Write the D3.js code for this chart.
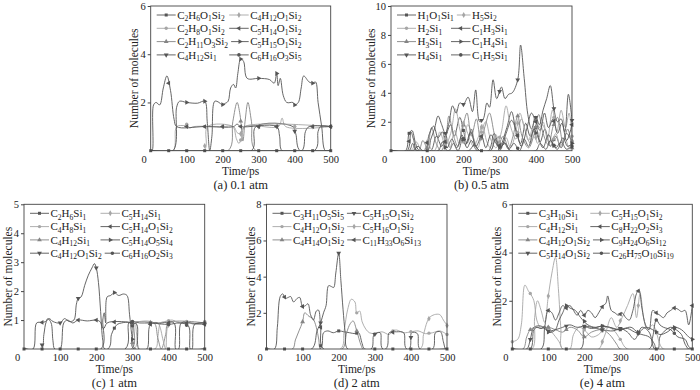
<!DOCTYPE html>
<html><head><meta charset="utf-8">
<script src="https://cdn.jsdelivr.net/npm/d3@7"></script>
<style>
body{margin:0;background:#fff}
svg{display:block;font-family:'Liberation Serif','DejaVu Serif',serif}
svg text{font-family:'Liberation Serif','DejaVu Serif',serif;fill:#222}
</style>
</head><body>
<svg width="700" height="390" font-family="Liberation Serif"></svg>
<script>
// ---------------- DATA ----------------
const xTickLabels = [0, 100, 200, 300, 400, 500];
const markerTimes = [0, 50, 100, 150, 200, 250, 300, 350, 400, 450, 500];

// (a) 0.1 atm
const namesA = ["C2H6O1Si2","C2H8O1Si2","C2H11O3Si2","C4H12Si1","C4H12O1Si2","C5H14O1Si2","C5H15O1Si2","C6H16O3Si5"];
const yTicksA = [2, 4, 6];
const seriesA = [
  [[0,0],[500,0]],
  [[0,0],[62,0],[72,1],[95,1.05],[100,1.1],[108,0.95],[120,1],[200,1],[228,1],[238,0.5],[245,0.3],[252,0.5],[262,1],[355,1],[365,1.35],[375,1],[500,1]],
  [[0,0],[215,0],[228,1.2],[240,2],[248,1.5],[256,0.4],[262,1.2],[270,2],[280,1.2],[292,0],[500,0]],
  [[0,0],[280,0],[292,1],[395,1],[403,0.7],[415,0],[500,0]],
  [[0,0],[148,0],[158,1],[230,1],[240,0.75],[250,0.7],[260,1],[500,1]],
  [[0,0],[4,0],[8,1.9],[15,2],[25,1.9],[35,2.6],[45,3.1],[55,2.5],[65,1.3],[72,1],[150,1],[230,1],[240,1.1],[250,1],[350,1],[358,0.6],[365,0],[420,0],[430,0.8],[440,1],[500,1]],
  [[0,0],[62,0],[72,1.8],[80,2.05],[100,2],[130,1.97],[150,2.05],[157,1.2],[164,0],[170,0.6],[178,2.05],[190,2],[198,1.9],[205,1.95],[215,2.05],[222,2.6],[230,2.75],[236,2.6],[242,3.2],[250,3.8],[258,3.7],[268,3.0],[300,3.0],[330,2.95],[343,2.8],[350,3.2],[354,2.7],[360,3.0],[368,2.3],[378,2.0],[395,2.0],[400,1.9],[410,2.0],[418,2.6],[425,3.1],[440,2.85],[450,2.8],[458,2.85],[465,2],[475,1],[485,0],[500,0]],
  [[0,0],[455,0],[465,0.8],[472,1],[500,1]]
];

// (b) 0.5 atm
const namesB = ["H1O1Si1","H2Si1","H3Si1","H4Si1","H5Si2","C1H3Si1","C1H4Si1","C1H5Si1"];
const yTicksB = [2, 4, 6, 8, 10];
const seriesB = [
  [[0,0],[40,0],[50,1.2],[58,1.4],[68,0.5],[78,0],[110,0],[125,1.0],[140,0.3],[150,0.9],[165,1.8],[175,1.0],[190,2.3],[200,1.4],[210,0.5],[222,1.5],[232,0.4],[245,0],[270,0],[285,1.2],[300,0.3],[320,1.6],[333,2.7],[345,1.4],[358,0.5],[372,1.9],[385,1.0],[400,1.6],[412,0.6],[425,1.5],[440,0.3],[455,1.0],[470,0.2],[485,1.2],[500,0.6]],
  [[0,0],[55,0],[70,0.6],[85,0],[120,0],[135,1.3],[150,0.4],[165,1.2],[178,2.9],[190,1.5],[200,0.6],[212,1.8],[225,1.1],[240,0.2],[252,1.5],[262,2.0],[275,0.8],[290,0.2],[305,1.3],[318,3.1],[330,1.7],[345,0.8],[360,2.2],[372,1.3],[385,0.5],[398,2.4],[410,1.6],[420,2.0],[432,0.8],[446,2.8],[458,1.3],[470,2.8],[482,1.6],[492,2.6],[500,1.0]],
  [[0,0],[75,0],[88,0.7],[100,0.2],[112,1.6],[125,0.5],[138,0],[150,0.6],[160,2.4],[172,1.1],[185,0.3],[198,1.6],[210,2.6],[222,1.0],[236,2.2],[248,0.7],[260,1.7],[272,2.6],[285,1.2],[295,0.3],[310,1.0],[325,0.2],[338,1.1],[350,2.4],[362,1.0],[380,0.2],[395,1.1],[408,2.5],[420,1.2],[435,0.4],[448,1.7],[460,2.3],[475,0.6],[488,1.5],[500,0.2]],
  [[0,0],[100,0],[110,0.8],[120,1.5],[130,2.4],[140,1.8],[150,1.2],[160,1.9],[170,3.1],[180,2.6],[190,3.3],[200,3.2],[213,3.7],[225,2.7],[234,4.2],[245,2.0],[255,2.2],[265,3.3],[272,3.0],[282,4.9],[292,3.6],[305,4.4],[315,3.6],[325,3.9],[335,4.0],[350,4.9],[358,7.3],[368,5.0],[378,2.5],[388,1.5],[400,2.3],[410,1.8],[420,2.8],[430,3.6],[440,4.5],[450,2.9],[460,2.0],[470,2.2],[480,1.3],[490,3.9],[500,2.1]],
  [[0,0],[90,0],[100,0.6],[115,0],[140,0],[152,1.0],[163,0.2],[176,1.4],[188,0.5],[200,1.9],[212,1.2],[228,0.3],[242,1.0],[252,1.8],[265,0.6],[278,0.1],[290,1.1],[303,0.3],[318,0.9],[330,0.2],[345,1.3],[356,2.6],[368,1.6],[380,0.7],[392,1.6],[405,0.5],[418,1.8],[430,1.1],[442,0.3],[455,1.2],[468,0.3],[480,0.9],[492,0.2],[500,0.7]],
  [[0,0],[45,0],[55,1.3],[62,0.8],[72,0],[95,0],[105,1.1],[118,1.7],[130,0.9],[142,1.3],[155,0.2],[168,0.8],[182,0.2],[196,1.1],[206,0.4],[220,1.3],[235,0.3],[250,1.0],[262,0.2],[276,1.1],[290,0.5],[305,0.3],[318,1.2],[333,2.1],[348,1.2],[360,0.3],[375,1.5],[388,2.6],[400,2.0],[412,1.4],[424,2.6],[435,1.6],[448,2.2],[460,1.2],[472,1.9],[485,0.7],[500,1.8]],
  [[0,0],[50,0],[60,0.5],[70,0],[130,0],[142,0.6],[155,0],[185,0],[198,0.9],[210,0.2],[222,0.7],[238,0],[275,0],[288,0.8],[300,0.2],[315,0.5],[330,0],[355,0],[368,0.8],[380,0.3],[395,1.5],[408,0.8],[420,0.2],[435,1.1],[448,0.4],[460,0.1],[475,0.9],[488,0.3],[500,0.5]],
  [[0,0],[60,0],[75,0.3],[88,0],[160,0],[172,0.5],[185,0],[215,0],[230,0.4],[245,0],[300,0],[312,0.6],[325,0.1],[340,0.5],[355,0],[400,0],[412,0.5],[428,0.1],[440,0.7],[455,0.2],[470,0.6],[485,0.1],[500,0.3]]
];

// (c) 1 atm
const namesC = ["C2H6Si1","C4H8Si1","C4H12Si1","C4H12O1Si2","C5H14Si1","C5H14O1Si2","C5H14O5Si4","C6H16O2Si3"];
const yTicksC = [1, 2, 3, 4, 5];
const seriesC = [
  [[0,0],[232,0],[242,0.5],[250,0.72],[258,0.85],[270,0.9],[290,0.92],[300,0.8],[308,0],[500,0]],
  [[0,0],[362,0],[370,0.4],[378,0.9],[390,0.95],[410,1.0],[430,0.9],[450,0.95],[470,0.85],[490,0.9],[500,0.95]],
  [[0,0],[298,0],[306,0.9],[320,0.95],[360,0.9],[370,0.4],[380,0],[392,0.5],[400,0.9],[500,0.9]],
  [[0,0],[48,0],[55,0.5],[62,0.95],[70,1.05],[80,0.95],[100,0.9],[112,1.05],[125,0.95],[138,1.0],[145,1.55],[150,1.75],[158,1.8],[168,2.2],[178,2.55],[188,2.8],[195,2.95],[200,2.8],[206,2.3],[212,1.3],[218,0.3],[224,0],[500,0]],
  [[0,0],[305,0],[312,0.9],[330,0.95],[350,0.9],[370,0.9],[385,0.3],[392,0],[398,0.8],[410,0.95],[440,0.9],[460,0.9],[480,0.85],[500,0.9]],
  [[0,0],[25,0],[35,0.9],[50,0.92],[60,0.95],[66,1.05],[75,0.9],[80,0.3],[85,0],[100,0],[110,0.9],[120,1.0],[135,0.9],[150,1.0],[175,0.97],[200,1.0],[210,0.95],[220,0.7],[230,0.9],[260,0.95],[300,0.9],[312,0.85],[318,0],[340,0],[350,0.85],[380,0.9],[415,0.9],[420,0],[428,0],[435,0.9],[460,0.9],[500,0.85]],
  [[0,0],[213,0],[218,1.0],[222,1.25],[226,0.9],[230,1.8],[240,1.85],[250,1.95],[262,1.85],[275,1.9],[285,1.85],[292,1.2],[298,0.5],[304,0],[500,0]],
  [[0,0],[280,0],[290,0.9],[300,0.95],[320,0.9],[350,0.9],[400,0.85],[430,0.9],[455,0.8],[460,0],[465,0],[472,0.85],[500,0.9]]
];

// (d) 2 atm
const namesD = ["C3H11O5Si5","C4H12O1Si2","C4H14O1Si2","C5H15O1Si2","C5H16O1Si2","C11H33O6Si13"];
const yTicksD = [2, 4, 6, 8];
const seriesD = [
  [[0,0],[148,0],[158,0.9],[170,1.0],[185,0.9],[200,1.0],[215,0.95],[230,0.9],[245,0.85],[255,0.9],[265,0.3],[272,0],[500,0]],
  [[0,0],[205,0],[215,1.0],[225,2.2],[235,2.75],[245,2.6],[250,2.0],[258,2.1],[265,1.5],[275,1.1],[285,0.9],[300,0.85],[320,0.95],[340,0.8],[350,1.0],[360,1.05],[380,0.9],[400,0.95],[420,1.0],[440,0.85],[460,0.9],[480,1.0],[500,0.8]],
  [[0,0],[72,0],[80,0.5],[90,1.0],[100,1.5],[106,2.0],[118,1.8],[128,1.7],[138,1.2],[145,0.5],[150,0],[210,0],[222,0.9],[232,1.4],[240,1.55],[250,1.0],[262,0.2],[268,0],[500,0]],
  [[0,0],[125,0],[140,1.0],[150,1.45],[158,2.0],[165,2.4],[172,3.5],[180,3.45],[186,3.4],[192,4.2],[200,5.3],[206,3.8],[212,2.2],[218,0.9],[225,0],[290,0],[298,0.8],[315,0.9],[322,0],[395,0],[402,0.9],[418,0.85],[425,0],[500,0]],
  [[0,0],[425,0],[435,0.8],[445,1.5],[452,1.75],[465,1.9],[480,1.9],[490,1.6],[500,1.3]],
  [[0,0],[22,0],[30,1.2],[38,2.9],[45,3.05],[52,2.8],[60,2.85],[67,2.9],[75,2.6],[85,2.8],[92,2.85],[100,2.35],[108,2.4],[115,2.5],[122,1.9],[130,1.6],[138,2.1],[144,2.15],[150,1.2],[158,0],[330,0],[340,0.9],[360,0.95],[380,0.9],[388,0],[460,0],[468,0.9],[482,0.95],[490,0.4],[496,0],[500,0]]
];

// (e) 4 atm
const namesE = ["C3H10Si1","C4H12Si1","C4H12O1Si2","C5H14O1Si2","C5H15O1Si2","C8H22O2Si3","C9H24O6Si12","C26H75O10Si19"];
const yTicksE = [2, 4, 6];
const seriesE = [
  [[0,0],[190,0],[200,0.9],[220,0.85],[250,0.95],[270,0.9],[300,0.8],[320,0.85],[340,0.7],[360,0.6],[380,0.5],[395,0.2],[400,0],[500,0]],
  [[0,0.3],[15,0.4],[25,1.0],[35,2.65],[45,2.4],[50,2.3],[60,2.0],[68,1.2],[78,0.9],[90,0.85],[100,0.9],[110,0.7],[130,0.3],[140,0],[160,0],[170,0.6],[185,0.9],[200,0.8],[220,0.5],[240,0.6],[260,0.9],[280,0.8],[300,0.4],[320,0],[500,0]],
  [[0,0],[30,0],[40,0.5],[50,0.8],[65,0.9],[80,0.85],[100,0.9],[120,0.8],[140,0.7],[160,0.9],[180,0.8],[200,0.5],[220,0.7],[250,0.8],[270,0.6],[290,0.2],[300,0],[500,0]],
  [[0,0],[40,0],[50,0.4],[60,0.9],[80,0.95],[100,0.75],[120,0.8],[140,0.9],[160,1.0],[180,0.9],[200,0.95],[220,0.9],[250,0.8],[280,0.75],[300,0.85],[320,0.7],[340,0.4],[360,0.9],[380,0.7],[395,0],[405,0],[410,0.5],[420,0.7],[440,0.9],[455,0.8],[470,0.6],[480,0.2],[490,0],[500,0]],
  [[0,0],[55,0],[62,1.3],[70,2.0],[80,1.6],[90,1.1],[100,2.2],[110,3.15],[120,3.8],[128,2.5],[135,0.8],[140,0],[240,0],[250,0.3],[260,0.7],[275,1.3],[290,0.9],[305,1.3],[320,1.8],[335,2.3],[345,1.3],[355,2.3],[365,1.3],[375,0.8],[390,1.0],[400,0.7],[410,0.2],[420,0],[500,0]],
  [[0,0],[80,0],[90,0.9],[100,1.6],[110,1.5],[120,1.2],[130,1.5],[140,1.8],[150,1.7],[160,1.8],[170,1.6],[180,1.4],[190,1.6],[200,1.4],[210,1.6],[220,1.5],[230,1.3],[240,1.5],[250,1.75],[260,1.9],[265,2.2],[275,1.6],[285,1.5],[295,1.4],[305,1.5],[315,1.3],[325,1.2],[335,1.6],[345,2.3],[352,2.45],[360,1.7],[370,1.0],[380,0.8],[390,1.6],[400,1.5],[410,1.4],[420,1.3],[430,1.5],[440,1.6],[450,1.7],[460,1.65],[470,1.55],[480,1.6],[490,1.0],[500,1.8]],
  [[0,0],[50,0],[60,0.8],[70,0.9],[80,0.85],[90,0.95],[100,0.7],[110,0.7],[120,0.8],[130,1.2],[140,1.5],[150,1.8],[160,1.7],[175,1.6],[190,1.3],[210,1.0],[230,0.9],[250,0.95],[270,0.9],[290,0.8],[310,0.85],[330,0.9],[350,0.7],[370,0.9],[390,0.8],[410,0.6],[430,0.7],[450,0.9],[470,0.8],[490,0.5],[500,0.4]],
  [[0,0],[380,0],[390,0.5],[400,1.2],[410,1.0],[420,0.9],[440,0.8],[460,0.5],[480,0.4],[490,0.1],[500,0]]
];

const captions = ["(a) 0.1 atm","(b) 0.5 atm","(c) 1 atm","(d) 2 atm","(e) 4 atm"];
const yMaxes = [6, 10, 5, 8, 6];

// ---------------- LAYOUT / STYLE ----------------
const FONT = "'Liberation Serif','DejaVu Serif',serif";
const layout = [
  {left:150.7, right:330.7, top:6,     bottom:150.7, ytitle:17,   col2:99.5, rows:4},
  {left:391,   right:572,   top:6,     bottom:150.7, ytitle:20.5, col2:81,   rows:4},
  {left:24,    right:204.7, top:204.3, bottom:349,   ytitle:16.5, col2:97.5, rows:4},
  {left:266.5, right:447,   top:204.3, bottom:349,   ytitle:15.5, col2:96,   rows:3},
  {left:512.3, right:692.3, top:204.3, bottom:349,   ytitle:15.5, col2:99,   rows:4}
];
const panelData = [
  {names:namesA, series:seriesA, yTicks:yTicksA},
  {names:namesB, series:seriesB, yTicks:yTicksB},
  {names:namesC, series:seriesC, yTicks:yTicksC},
  {names:namesD, series:seriesD, yTicks:yTicksD},
  {names:namesE, series:seriesE, yTicks:yTicksE}
];
const DARK = "#555555", LIGHT = "#a6a6a6", MID = "#858585";
const seriesColors = [DARK, LIGHT, MID, DARK, LIGHT, DARK, DARK, DARK];
const symTypes = [d3.symbolSquare, d3.symbolCircle, d3.symbolTriangle, d3.symbolTriangle, d3.symbolDiamond, d3.symbolTriangle, d3.symbolTriangle, d3.symbolCircle];
const symRot = [0, 0, 0, 180, 0, -90, 90, 0];
const symSize = [9, 9, 10, 10, 10, 10, 10, 10];

const svg = d3.select("svg");

function interp(s, t) {
  for (let k = 0; k < s.length - 1; k++) {
    const a = s[k], b = s[k + 1];
    if (t >= a[0] && t <= b[0]) return a[1] + (b[1] - a[1]) * (t - a[0]) / ((b[0] - a[0]) || 1);
  }
  return s[s.length - 1][1];
}
function drawSym(g, i, cx, cy) {
  g.append("path")
    .attr("d", d3.symbol().type(symTypes[i]).size(symSize[i])())
    .attr("transform", `translate(${cx},${cy}) rotate(${symRot[i]})`)
    .attr("fill", seriesColors[i]).attr("stroke", "none");
}
function addFormula(textSel, name) {
  const re = /([A-Z][a-z]?)(\d*)/g;
  let m, sub = false;
  while ((m = re.exec(name)) !== null) {
    if (!m[0]) break;
    textSel.append("tspan").attr("dy", sub ? -2.6 : 0).text(m[1]);
    sub = false;
    if (m[2]) {
      textSel.append("tspan").attr("font-size", 7.5).attr("dy", 2.6).text(m[2]);
      sub = true;
    }
  }
}

panelData.forEach((p, pi) => {
  const L = layout[pi];
  const x = d3.scaleLinear().domain([0, 500]).range([L.left, L.right]);
  const y = d3.scaleLinear().domain([0, yMaxes[pi]]).range([L.bottom, L.top]);
  const g = svg.append("g").attr("font-family", FONT);
  const clipId = "clip" + pi;
  svg.append("clipPath").attr("id", clipId).append("rect")
    .attr("x", L.left).attr("y", L.top - 1).attr("width", L.right - L.left).attr("height", L.bottom - L.top + 1);

  const line = d3.line().x(d => x(d[0])).y(d => y(d[1])).curve(d3.curveCatmullRom.alpha(0.5));
  const lg = g.append("g").attr("clip-path", `url(#${clipId})`);
  p.series.forEach((s, i) => {
    lg.append("path").attr("d", line(s)).attr("fill", "none")
      .attr("stroke", seriesColors[i]).attr("stroke-width", 0.9);
  });
  p.series.forEach((s, i) => {
    markerTimes.forEach(t => {
      const v = interp(s, t);
      if (v > 0.02 || i === 0) drawSym(g, i, x(t), y(v));
    });
  });

  // frame
  g.append("rect").attr("x", L.left).attr("y", L.top)
    .attr("width", L.right - L.left).attr("height", L.bottom - L.top)
    .attr("fill", "none").attr("stroke", "#444").attr("stroke-width", 0.9);

  // y axis
  const ya = g.append("g").attr("transform", `translate(${L.left},0)`)
    .call(d3.axisLeft(y).tickValues(p.yTicks).tickSize(3).tickSizeOuter(0).tickPadding(2).tickFormat(d3.format("d")));
  ya.attr("font-family", FONT);
  ya.select(".domain").remove();
  ya.selectAll("line").attr("stroke", "#444");
  ya.selectAll("text").attr("font-size", 10.5).style("font-family", FONT).attr("fill", "#222");

  // x axis
  const xa = g.append("g").attr("transform", `translate(0,${L.bottom})`)
    .call(d3.axisBottom(x).tickValues(xTickLabels).tickSize(0).tickSizeOuter(0).tickPadding(4.5).tickFormat(d3.format("d")));
  xa.attr("font-family", FONT);
  xa.select(".domain").remove();
  xa.selectAll("text").attr("font-size", 10.5).style("font-family", FONT).attr("fill", "#222")
    .attr("dx", d => d === 0 ? -7 : 0);

  // titles
  g.append("text").attr("x", (L.left + L.right) / 2).attr("y", L.bottom + 24)
    .attr("text-anchor", "middle").attr("font-size", 11.5).style("font-family", FONT).text("Time/ps");
  g.append("text").attr("transform", `translate(${L.left - L.ytitle},${(L.top + L.bottom) / 2}) rotate(-90)`)
    .attr("text-anchor", "middle").attr("dominant-baseline", "central").attr("font-size", 11.5).style("font-family", FONT).text("Number of molecules");
  g.append("text").attr("x", (L.left + L.right) / 2).attr("y", L.bottom + 38)
    .attr("text-anchor", "middle").attr("font-size", 12.5).style("font-family", FONT).text(captions[pi]);

  // legend
  const rows = L.rows;
  const col1End = [];
  p.names.forEach((nm, i) => {
    const col = Math.floor(i / rows), row = i % rows;
    const cy = L.top + 9 + row * 13.3;
    const tx = L.left + (col === 0 ? 26.5 : L.col2);
    let lx0 = tx - 21;
    if (col === 0) lx0 = L.left + 6;
    else if (col1End[row] !== undefined) lx0 = Math.max(lx0, col1End[row] + 3);
    const lx1 = tx - 1.5;
    g.append("line").attr("x1", lx0).attr("x2", lx1).attr("y1", cy).attr("y2", cy)
      .attr("stroke", seriesColors[i]).attr("stroke-width", 0.9);
    drawSym(g, i, (lx0 + lx1) / 2, cy);
    const t = g.append("text").attr("x", tx).attr("y", cy + 3.6).attr("font-size", 11).style("font-family", FONT);
    addFormula(t, nm);
    if (col === 0) col1End[row] = tx + t.node().getComputedTextLength();
  });
});
</script>
</body></html>
